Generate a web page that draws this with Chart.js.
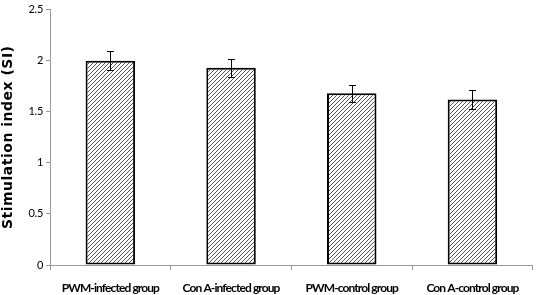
<!DOCTYPE html>
<html>
<head>
<meta charset="utf-8">
<script src="https://cdn.jsdelivr.net/npm/chart.js@4/dist/chart.umd.min.js"></script>
<style>
  html, body { margin: 0; padding: 0; background: #fff; }
  #wrap { width: 538px; height: 295px; position: relative; }
</style>
</head>
<body>
<div id="wrap"><canvas id="chart"></canvas></div>
<script>
// Data
var categories = ['PWM-infected group', 'Con A-infected group', 'PWM-control group', 'Con A-control group'];
var siValues = [2.00, 1.93, 1.68, 1.62];
var siErrors = [0.09, 0.09, 0.08, 0.09];
var yTicks = [0, 0.5, 1, 1.5, 2, 2.5];

var FONT = 'Lato, "Open Sans", sans-serif';

// Diagonal hatch fill like the original Excel pattern
function makeHatch() {
  var c = document.createElement('canvas');
  c.width = 4; c.height = 4;
  var g = c.getContext('2d');
  g.fillStyle = '#fff';
  g.fillRect(0, 0, 4, 4);
  g.strokeStyle = '#555';
  g.lineWidth = 1;
  g.beginPath();
  g.moveTo(0, 4); g.lineTo(4, 0);
  g.moveTo(-1, 1); g.lineTo(1, -1);
  g.moveTo(3, 5); g.lineTo(5, 3);
  g.stroke();
  return g.createPattern(c, 'repeat');
}

// Error bars drawn through the chart's own scales
var errorBars = {
  id: 'errorBars',
  afterDatasetsDraw: function(chart) {
    var ctx = chart.ctx;
    var meta = chart.getDatasetMeta(0);
    var y = chart.scales.y;
    ctx.save();
    ctx.strokeStyle = '#000';
    ctx.lineWidth = 1;
    meta.data.forEach(function(bar, i) {
      var x = Math.round(bar.x) + 0.5;
      var top = Math.round(y.getPixelForValue(siValues[i] + siErrors[i])) + 0.5;
      var bot = Math.round(y.getPixelForValue(siValues[i] - siErrors[i])) + 0.5;
      ctx.beginPath();
      ctx.moveTo(x, top); ctx.lineTo(x, bot);
      ctx.moveTo(x - 3.5, top); ctx.lineTo(x + 3.5, top);
      ctx.moveTo(x - 3.5, bot); ctx.lineTo(x + 3.5, bot);
      ctx.stroke();
    });
    ctx.restore();
  }
};

// Tighter label text (original uses a narrow font) / wider title
function withSpacing(fn, spacing) {
  return function(a) {
    var c = this.ctx;
    c.save();
    c.letterSpacing = spacing;
    fn.call(this, a);
    c.restore();
  };
}
var textSpacing = {
  id: 'textSpacing',
  afterUpdate: function(chart) {
    var sx = chart.scales.x, sy = chart.scales.y;
    if (!sx._spaced) { sx.drawLabels = withSpacing(sx.drawLabels, '-0.9px'); sx._spaced = true; }
    if (!sy._spaced) {
      sy.drawLabels = withSpacing(sy.drawLabels, '-0.3px');
      sy.drawTitle = withSpacing(sy.drawTitle, '0.5px');
      sy._spaced = true;
    }
  }
};

new Chart(document.getElementById('chart'), {
  type: 'bar',
  data: {
    labels: categories,
    datasets: [{
      data: siValues,
      backgroundColor: makeHatch(),
      borderColor: '#000',
      borderWidth: 2,
      borderSkipped: false,
      barPercentage: 0.41,
      categoryPercentage: 1
    }]
  },
  options: {
    responsive: true,
    maintainAspectRatio: false,
    animation: false,
    layout: { padding: { top: 5, right: 0, left: 0, bottom: 0 } },
    plugins: { legend: { display: false }, tooltip: { enabled: false } },
    scales: {
      x: {
        grid: { display: true, drawOnChartArea: false, offset: true, color: '#999', tickLength: 5 },
        border: { color: '#999' },
        ticks: { color: '#000', font: { family: FONT, size: 12, weight: 'bold' }, padding: 11, maxRotation: 0, autoSkip: false },
        afterFit: function(s) { s.height = 30; }
      },
      y: {
        min: 0, max: 2.5,
        afterBuildTicks: function(s) { s.ticks = yTicks.map(function(v) { return { value: v }; }); },
        grid: { display: true, drawOnChartArea: false, color: '#999', tickLength: 4 },
        border: { color: '#999' },
        ticks: { color: '#000', font: { family: FONT, size: 11 }, padding: 3, callback: function(v) { return String(v); } },
        title: { display: true, text: 'Stimulation index (SI)', color: '#000', font: { family: '"DejaVu Sans", sans-serif', size: 14, weight: 'bold' }, padding: { top: 0, bottom: 2 } },
        afterFit: function(s) { s.width = 50; }
      }
    }
  },
  plugins: [errorBars, textSpacing]
});
</script>
</body>
</html>
